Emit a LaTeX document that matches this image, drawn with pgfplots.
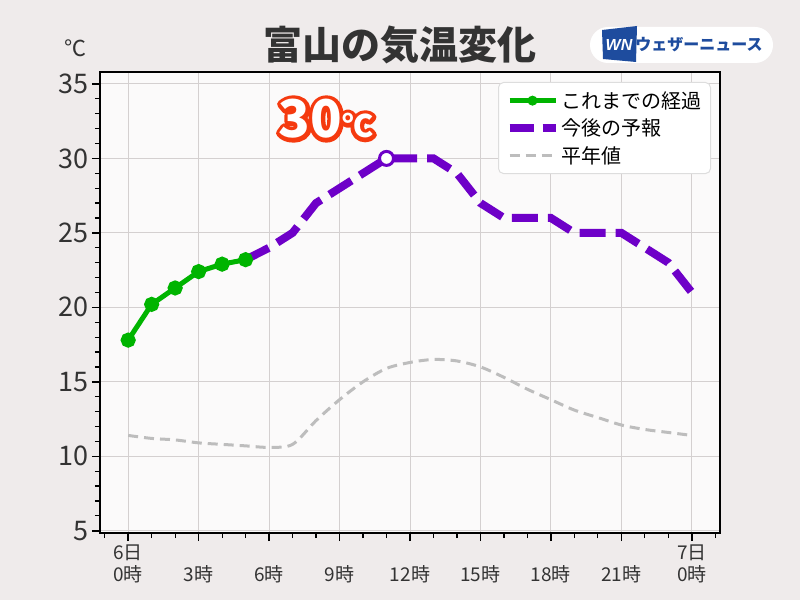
\documentclass[border=0pt]{standalone}
\usepackage{fontspec}
\setmainfont{Noto Sans CJK JP}
\newfontfamily\lsans{Liberation Sans}
\usepackage{pgfplots}
\pgfplotsset{compat=1.18}
\definecolor{bgc}{HTML}{EFEBEB}
\definecolor{plotbg}{HTML}{FBFAFA}
\definecolor{gridc}{HTML}{D4D0D0}
\definecolor{txt}{HTML}{333333}
\definecolor{obsg}{HTML}{00B400}
\definecolor{fcp}{HTML}{6E00C8}
\definecolor{normg}{HTML}{BDBDBD}
\definecolor{outred}{HTML}{F53A0F}
\definecolor{wnblue}{HTML}{1E4C9E}
\definecolor{legb}{HTML}{DDDDDD}
\begin{document}
\begin{tikzpicture}
\fill[bgc] (0,0) rectangle (800pt,600pt);
\useasboundingbox (0,0) rectangle (800pt,600pt);
\begin{axis}[
  at={(100pt,67pt)}, anchor=south west, scale only axis,
  width=620pt, height=461pt,
  xmin=-1.2, xmax=25.2, ymin=4.85, ymax=35.8,
  xtick={0,3,...,24},
  xticklabels={{6日\\0時},{\phantom{6日}\\3時},{\phantom{6日}\\6時},{\phantom{6日}\\9時},{\phantom{6日}\\12時},{\phantom{6日}\\15時},{\phantom{6日}\\18時},{\phantom{6日}\\21時},{7日\\0時}},
  minor xtick={-1,0,...,25},
  ytick={5,10,...,35},
  minor ytick={5,6,...,35},
  xtick pos=bottom, ytick pos=left,
  tick align=outside,
  major tick length=8pt, minor tick length=5pt,
  tick style={black, line width=1.5pt},
  minor tick style={line width=1.2pt},
  grid=major,
  major grid style={draw=gridc, line width=0.9pt},
  axis line style={line width=2.5pt},
  axis background/.style={fill=plotbg},
  /pgf/number format/assume math mode=true,
  yticklabel style={font=\fontsize{27}{27}\selectfont, text=txt},
  xticklabel style={font=\fontsize{19}{22}\selectfont, text=txt, align=center},
  legend style={at={(1,1)}, anchor=north east, xshift=-9pt, yshift=-10pt,
    draw=legb, line width=1pt, rounded corners=5pt, fill=white,
    font=\fontsize{20}{24}\selectfont, text=black, inner xsep=7pt, inner ysep=7pt,
    row sep=5pt},
  legend cell align=left,
]
\addlegendimage{legend image code/.code={\draw[obsg, line width=5pt] (-10pt,0pt) -- (36pt,0pt); \fill[obsg] (13pt,0pt) circle (4.5pt);}}
\addlegendentry{これまでの経過}
\addlegendimage{legend image code/.code={\draw[fcp, line width=8pt, dash pattern=on 24pt off 9pt] (-10pt,0pt) -- (36pt,0pt);}}
\addlegendentry{今後の予報}
\addlegendimage{legend image code/.code={\draw[normg, line width=3pt, dash pattern=on 10pt off 6pt] (-10pt,0pt) -- (36pt,0pt);}}
\addlegendentry{平年値}

\addplot[normg, line width=3pt, dash pattern=on 10pt off 6pt, smooth, forget plot] coordinates {
(0,11.4)(1,11.2)(2,11.1)(3,10.9)(4,10.8)(5,10.7)(6,10.6)(7,10.8)(8,12.4)(9,13.8)(10,15.0)(11,15.9)(12,16.3)(13,16.5)(14,16.4)(15,16.0)(16,15.3)(17,14.5)(18,13.8)(19,13.1)(20,12.6)(21,12.1)(22,11.8)(23,11.6)(24,11.4)};
\addplot[fcp, line width=8pt, dash pattern=on 26pt off 10pt, forget plot] coordinates {
(5,23.2)(6,24)(7,25)(8,27)(9,28)(10,29)(11,30)(12,30)(13,30)(14,29)(15,27)(16,26)(17,26)(18,26)(19,25)(20,25)(21,25)(22,24)(23,23)(24,21)};
\addplot[obsg, line width=5pt, mark=*, mark size=5pt, mark options={solid, fill=obsg}, forget plot] coordinates {
(0,17.8)(1,20.2)(2,21.3)(3,22.4)(4,22.9)(5,23.2)};
\addplot[only marks, mark=*, mark size=7pt, mark options={fill=white, draw=fcp, line width=3pt}, forget plot] coordinates {(11,30)};
\end{axis}
% title
\node[text=txt, font=\bfseries\fontsize{39}{39}\selectfont] at (400pt,555pt) {富山の気温変化};
\node[text=txt, font=\fontsize{22}{22}\selectfont, anchor=east] at (90pt,552pt) {℃};
% 30 annotation: red stroked copy below, white copy on top
\def\thirty{\bfseries\fontsize{52}{52}\selectfont 30\fontsize{31}{31}\selectfont ℃}
\node[text=outred] at (326pt,481pt) {\special{pdf:literal direct 2 Tr 8 w 1 j 1 J}\thirty\special{pdf:literal direct 0 Tr 1 w}};
\node[text=white] at (326pt,481pt) {\thirty};
% logo
\fill[white, rounded corners=18pt] (590pt,537pt) rectangle (773pt,573pt);
\fill[wnblue] (602pt,570pt) -- (637pt,574pt) -- (636pt,538pt) -- (603pt,541pt) -- cycle;
\node[text=white, font=\lsans\bfseries\itshape\fontsize{16}{16}\selectfont, inner sep=0pt] at (619pt,555pt) {WN};
\node[text=wnblue, font=\bfseries\fontsize{16}{16}\selectfont, inner sep=0pt] at (699pt,555pt) {ウェザーニュース};
\end{tikzpicture}
\end{document}
